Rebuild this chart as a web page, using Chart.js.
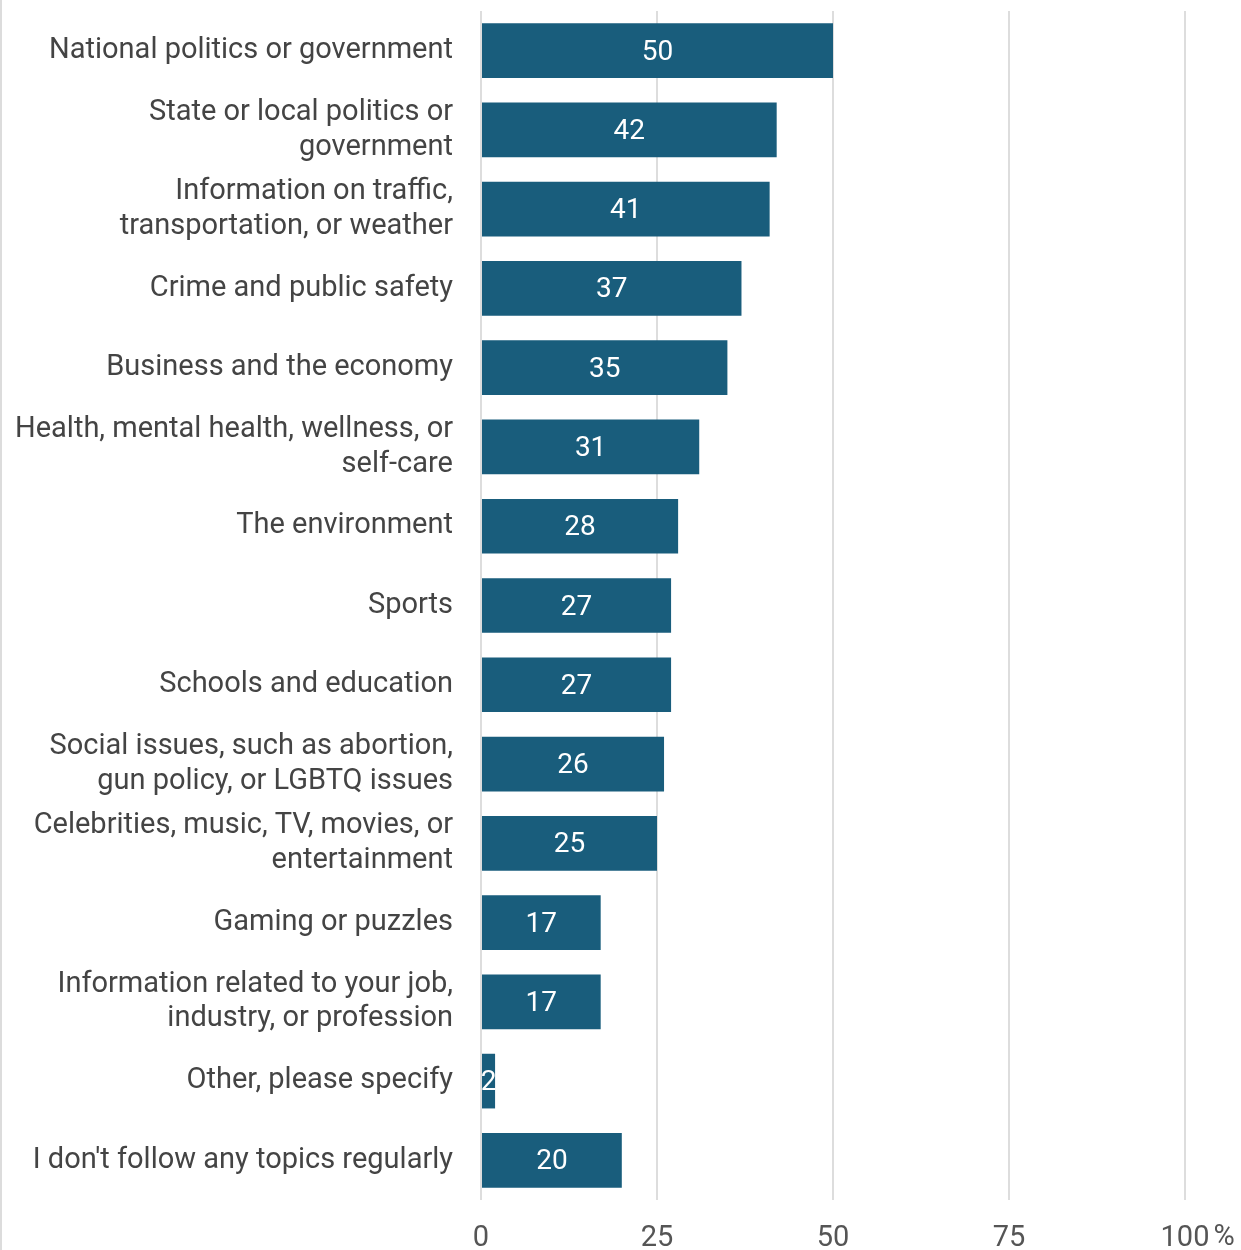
<!DOCTYPE html>
<html>
<head>
<meta charset="utf-8">
<script src="https://cdn.jsdelivr.net/npm/chart.js@4.4.0/dist/chart.umd.min.js"></script>
<style>
  html, body { margin: 0; padding: 0; background: #fff; }
  #wrap { position: relative; width: 1241px; height: 1250px; }
  #wrap:before { content: ""; position: absolute; left: 0; top: 0; width: 2px; height: 1250px; background: #dcdcdc; }
</style>
</head>
<body>
<div id="wrap"><canvas id="out" width="1241" height="1250"></canvas></div>
<script>
const topics = [
  "National politics or government",
  ["State or local politics or", "government"],
  ["Information on traffic,", "transportation, or weather"],
  "Crime and public safety",
  "Business and the economy",
  ["Health, mental health, wellness, or", "self-care"],
  "The environment",
  "Sports",
  "Schools and education",
  ["Social issues, such as abortion,", "gun policy, or LGBTQ issues"],
  ["Celebrities, music, TV, movies, or", "entertainment"],
  "Gaming or puzzles",
  ["Information related to your job,", "industry, or profession"],
  "Other, please specify",
  "I don't follow any topics regularly"
];
const shares = [50, 42, 41, 37, 35, 31, 28, 27, 27, 26, 25, 17, 17, 2, 20];
const xTicks = [0, 25, 50, 75, 100];
const tickFont = "29px Roboto";

// white value labels centred inside each bar, plus the "%" after the last tick
const barValues = {
  id: "barValues",
  afterDatasetsDraw(chart) {
    const ctx = chart.ctx;
    const meta = chart.getDatasetMeta(0);
    ctx.save();
    ctx.fillStyle = "#ffffff";
    ctx.font = "28px Roboto";
    ctx.textAlign = "center";
    ctx.textBaseline = "middle";
    meta.data.forEach((bar, i) => {
      ctx.fillText(String(shares[i]), (bar.base + bar.x) / 2, bar.y + 2);
    });
    ctx.restore();
  },
  afterDraw(chart) {
    const ctx = chart.ctx;
    const x = chart.scales.x;
    const last = xTicks[xTicks.length - 1];
    ctx.save();
    ctx.font = tickFont;
    const w = ctx.measureText(String(last)).width;
    ctx.fillStyle = "#555555";
    ctx.textAlign = "left";
    ctx.textBaseline = "middle";
    ctx.fillText("%", x.getPixelForValue(last) + w / 2 + 4, x.top + 38);
    ctx.restore();
  }
};

const canvasCtx = document.getElementById("out").getContext("2d");
new Chart(canvasCtx, {
  type: "bar",
  data: {
    labels: topics,
    datasets: [{
      data: shares,
      backgroundColor: "#195d7c",
      barPercentage: 0.69,
      categoryPercentage: 1
    }]
  },
  options: {
    indexAxis: "y",
    responsive: false,
    animation: false,
    layout: { padding: { top: 11, right: 56, bottom: 0, left: 0 } },
    plugins: { legend: { display: false }, tooltip: { enabled: false } },
    scales: {
      x: {
        min: 0,
        max: 100,
        afterBuildTicks: (scale) => { scale.ticks = xTicks.map(v => ({ value: v })); },
        afterFit: (scale) => {
          scale.height = 50;
          scale.paddingLeft = 0;
          scale.paddingRight = 0;
        },
        grid: { color: "#dddddd", lineWidth: 2, drawTicks: false },
        border: { display: false },
        ticks: {
          padding: 21,
          color: "#555555",
          font: { family: "Roboto", size: 29 }
        }
      },
      y: {
        afterFit: (scale) => {
          scale.width = 481;
          scale.paddingTop = 0;
          scale.paddingBottom = 0;
        },
        grid: { display: false, drawTicks: false },
        border: { display: false },
        ticks: {
          padding: 28,
          color: "#444444",
          font: { family: "Roboto", size: 29, lineHeight: 1.2 }
        }
      }
    }
  },
  plugins: [barValues]
});
</script>
</body>
</html>
